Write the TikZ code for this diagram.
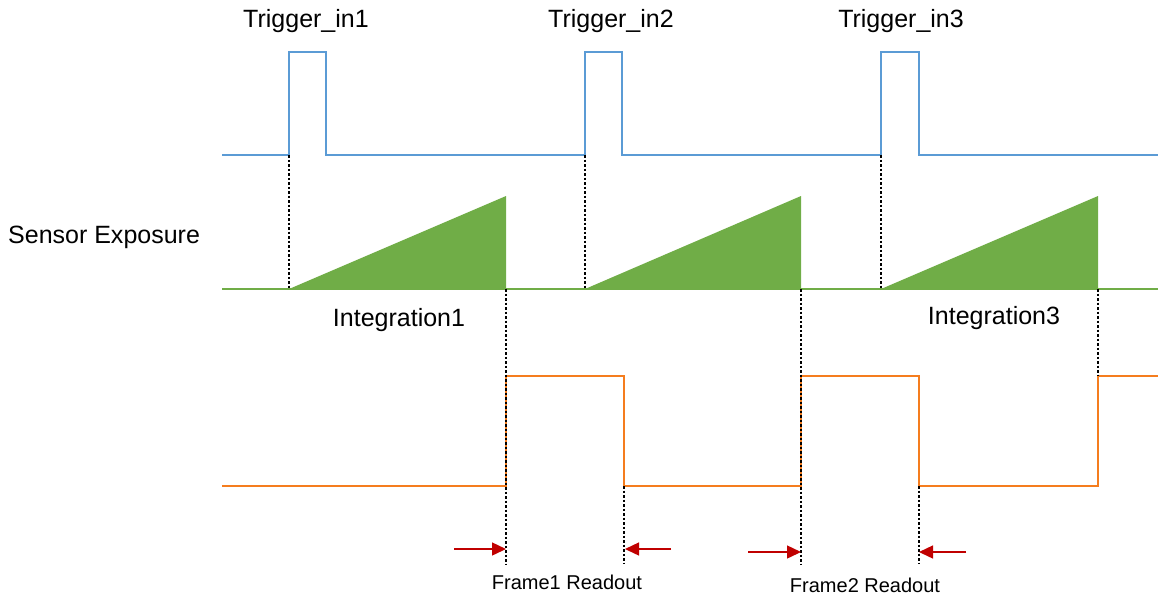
\documentclass[tikz,border=0pt]{standalone}
\usepackage{fontspec}
\setmainfont{Liberation Sans}
\usetikzlibrary{positioning,arrows.meta}
\definecolor{trigblue}{RGB}{91,155,213}
\definecolor{expgreen}{RGB}{112,173,71}
\definecolor{rdorange}{RGB}{245,125,30}
\definecolor{arrred}{RGB}{192,0,0}
\tikzset{
  trigln/.style={line width=2pt,trigblue,line join=miter},
  expfill/.style={fill=expgreen,draw=none},
  expln/.style={line width=2pt,expgreen},
  rdln/.style={line width=2pt,rdorange,line join=miter},
  guide/.style={line width=1.5pt,black,dash pattern=on 2.5pt off 2pt},
  rdarr/.style={-{Triangle[length=14pt,width=13pt]},line width=1.4pt,arrred},
  biglbl/.style={font=\fontsize{25}{30}\selectfont,inner sep=0pt},
  smlbl/.style={font=\fontsize{20}{24}\selectfont,inner sep=0pt},
}
\begin{document}
\begin{tikzpicture}[x=1pt,y=-1pt]
  \useasboundingbox (0,0) rectangle (1158,598);
  % trigger input
  \draw[trigln] (222,155) -- (289,155) -- (289,52) -- (326,52) -- (326,155)
    -- (585,155) -- (585,52) -- (622,52) -- (622,155)
    -- (881,155) -- (881,52) -- (919,52) -- (919,155) -- (1158,155);
  \foreach \i/\x in {1/289,2/585,3/881}{
    \coordinate (t\i) at (\x,155);
    \coordinate (s\i) at (\x,289);
  }
  \node[biglbl] (trig1) at (306,21) {Trigger\_in1};
  \node[biglbl] (trig2) at (611,21) {Trigger\_in2};
  \node[biglbl] (trig3) at (901,21) {Trigger\_in3};
  % exposure ramps
  \foreach \i/\x/\e in {1/289/506,2/585/801,3/881/1098}{
    \fill[expfill] (\x,289) -- (\e,196) -- (\e,289) -- cycle;
    \coordinate (e\i) at (\e,289);
  }
  \draw[expln] (222,289) -- (1158,289);
  \node[biglbl,anchor=west] (sens) at (8,237) {Sensor Exposure};
  \node[biglbl] (int1) at (399,320) {Integration1};
  \node[biglbl] (int3) at (994,318) {Integration3};
  % readout
  \draw[rdln] (222,486) -- (506,486) -- (506,376) -- (624,376) -- (624,486)
    -- (801,486) -- (801,376) -- (919,376) -- (919,486)
    -- (1098,486) -- (1098,376) -- (1158,376);
  \coordinate (r1) at (624,486);
  \coordinate (r2) at (919,486);
  \coordinate (e3b) at (1098,376);
  % guides
  \foreach \i in {1,2,3}{\draw[guide] (t\i) -- (s\i);}
  \draw[guide] (e1) -- ++(0,275) coordinate (e1b);
  \draw[guide] (e2) -- ++(0,275) coordinate (e2b);
  \draw[guide] (e3) -- (e3b);
  \draw[guide] (r1) -- ++(0,78) coordinate (r1b);
  \draw[guide] (r2) -- ++(0,78) coordinate (r2b);
  % readout arrows
  \coordinate (a1) at (506,549);
  \coordinate (a2) at (625,549);
  \coordinate (a3) at (801,552);
  \coordinate (a4) at (919,552);
  \draw[rdarr] ([xshift=-52pt]a1) -- (a1);
  \draw[rdarr] ([xshift=46pt]a2) -- (a2);
  \draw[rdarr] ([xshift=-53pt]a3) -- (a3);
  \draw[rdarr] ([xshift=47pt]a4) -- (a4);
  \node[smlbl] (fr1) at (567,582) {Frame1 Readout};
  \node[smlbl] (fr2) at (865,585) {Frame2 Readout};
\end{tikzpicture}
\end{document}
